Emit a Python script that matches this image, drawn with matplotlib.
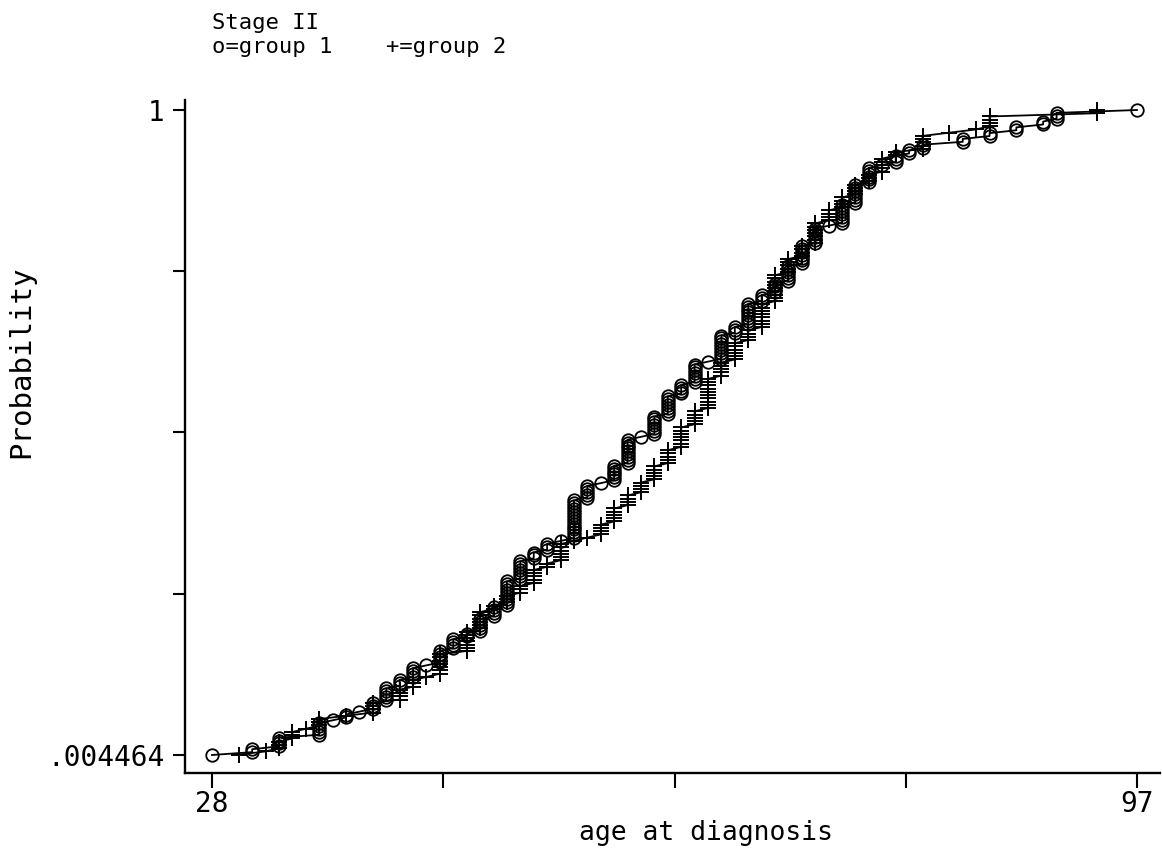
import numpy as np
import matplotlib
matplotlib.use("Agg")
import matplotlib.pyplot as plt

# group 1 (o): ages and cumulative counts at each age
ages1 = [28, 31, 33, 36, 37, 38, 39, 40, 41, 42,
         43, 44, 45, 46, 47, 48, 49, 50, 51, 52,
         53, 54, 55, 56, 57, 58, 59, 60, 61, 62,
         63, 64, 65, 66, 67, 68, 69, 70, 71, 72,
         73, 74, 75, 76, 77, 78, 79, 80, 81,
         84, 86, 88, 90, 91, 97]
cum1 = [1, 3, 7, 12, 13, 15, 16, 19, 24, 27,
        31, 32, 37, 41, 43, 48, 52, 61, 68, 71,
        74, 75, 89, 94, 95, 101, 110, 111, 118, 125,
        129, 136, 137, 146, 149, 157, 160, 164, 170, 177,
        183, 184, 191, 198, 204, 205, 208, 210, 212,
        214, 216, 218, 220, 223, 224]

# group 2 (+)
ages2 = [30, 32, 33, 34, 35, 36, 38, 40, 42, 43,
         44, 45, 47, 48, 49, 50, 51, 52, 53, 54,
         55, 56, 57, 58, 59, 60, 61, 62, 63, 64,
         65, 66, 67, 68, 69, 70, 71, 72, 73, 74,
         75, 76, 77, 78, 79,
         81, 83, 85, 86, 94]
cum2 = [1, 2, 5, 8, 9, 12, 13, 17, 21, 24,
        25, 32, 39, 45, 47, 50, 53, 58, 60, 66,
        67, 68, 72, 77, 81, 85, 90, 95, 102, 107,
        117, 122, 128, 132, 140, 149, 154, 158, 165, 169,
        173, 177, 180, 185, 187,
        192, 193, 194, 198, 200]

title_lines = ["Stage II", "o=group 1    +=group 2"]
xlabel = "age at diagnosis"
ylabel = "Probability"
xtick_labels = ["28", "", "", "", "97"]
ytick_labels = [".004464", "", "", "", "1"]


def expand(ages, cum):
    cum = np.asarray(cum)
    counts = np.diff(np.concatenate([[0], cum]))
    x = np.repeat(ages, counts)
    n = cum[-1]
    y = np.arange(1, n + 1) / n
    return x, y


x1, y1 = expand(ages1, cum1)
x2, y2 = expand(ages2, cum2)

plt.rcParams['font.family'] = ['DejaVu Sans Mono']

W, H = 1162, 857
fig = plt.figure(figsize=(W / 100, H / 100), dpi=100)
ax = fig.add_axes([185 / W, 1 - 773 / H, (1160 - 185) / W, (773 - 100) / H])

ax.plot(x1, y1, color='black', lw=1.3, marker='o', ms=9, mfc='none', mec='black', mew=1.3)
ax.plot(x2, y2, color='black', lw=1.3, marker='+', ms=11, mec='black', mew=1.4)

ymin = 1 / 224
ypp = (1 - ymin) / 645.0
xpp = 69 / 925.0
ax.set_xlim(28 - 27 * xpp, 97 + 23 * xpp)
ax.set_ylim(ymin - 18 * ypp, 1 + 10 * ypp)

ax.set_xticks(np.linspace(28, 97, 5))
ax.set_xticklabels(xtick_labels)
ax.set_yticks(np.linspace(ymin, 1, 5))
ax.set_yticklabels(ytick_labels)

for s in ['top', 'right']:
    ax.spines[s].set_visible(False)
for s in ['left', 'bottom']:
    ax.spines[s].set_linewidth(1.7)

ax.tick_params(axis='x', direction='out', length=11, width=1.5, labelsize=20, pad=1)
ax.tick_params(axis='y', direction='out', length=9, width=1.5, labelsize=20, pad=6)

fig.text(706 / W, 1 - 833 / H, xlabel, fontsize=19, ha='center', va='center')
fig.text(21 / W, 1 - 362 / H, ylabel, fontsize=21, ha='center', va='center', rotation=90)

fig.text(212 / W, 1 - 23 / H, title_lines[0], fontsize=16, va='center', ha='left')
fig.text(212 / W, 1 - 47 / H, title_lines[1], fontsize=16, va='center', ha='left')

fig.savefig("out.png", dpi=100)
